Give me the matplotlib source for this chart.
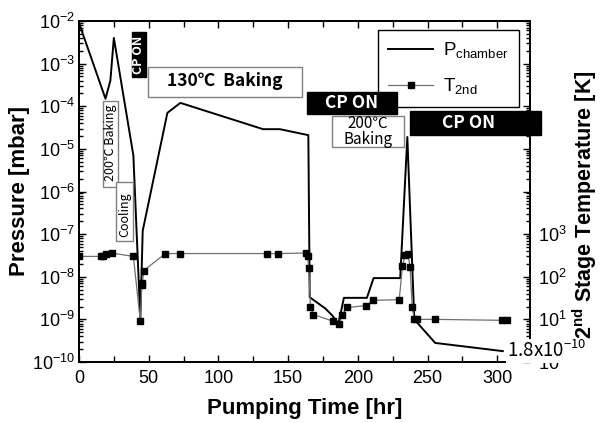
import math
import matplotlib
matplotlib.use('Agg')
import matplotlib.pyplot as plt
from matplotlib.lines import Line2D
from matplotlib.patches import Rectangle
from matplotlib.ticker import MultipleLocator, FixedLocator, FuncFormatter

plt.rcParams['font.family'] = 'Liberation Sans'
plt.rcParams['mathtext.fontset'] = 'custom'
plt.rcParams['mathtext.rm'] = 'Liberation Sans'
plt.rcParams['mathtext.bf'] = 'Liberation Sans:bold'
plt.rcParams['mathtext.default'] = 'regular'

# chamber pressure [mbar] vs pumping time [hr]
t_p = [0, 19, 22.5, 25, 39, 44, 45.7, 63.4, 72.7, 132, 144, 164.5, 165.5,
       176.7, 181.5, 186, 187.5, 190, 206.5, 211.3, 230.4, 235.5, 240.5,
       255.5, 304]
p_chamber = [9e-3, 1.5e-4, 4e-4, 4e-3, 7e-6, 1e-9, 1.2e-7, 7e-5, 1.2e-4,
             2.9e-5, 2.9e-5, 2.1e-5, 3.3e-9, 1.8e-9, 1.25e-9, 8e-10,
             1.3e-9, 3.2e-9, 3.2e-9, 9.3e-9, 9.3e-9, 1.9e-5, 1e-9,
             2.8e-10, 1.8e-10]

# 2nd stage temperature [K]
t_t = [0, 15.5, 17.5, 19.5, 23.5, 39, 44, 45, 45.5, 46.5, 62, 72.5, 135,
       143, 162.5, 164, 164.8, 166, 168, 182.5, 186.5, 188.6, 192.5, 206,
       211, 229.7, 232, 234, 236, 237.5, 239, 240.5, 242.5, 255.5, 303.5, 307]
t_2nd = [300, 300, 310, 340, 360, 300, 9, 65, 70, 140, 350, 350, 350,
         350, 360, 310, 160, 20, 13, 9, 7.6, 13, 19, 21,
         28, 29, 175, 330, 350, 165, 20, 10, 10, 10, 9.5, 9.5]

W, H = 600, 423
fig = plt.figure(figsize=(6, 4.23), dpi=100)
ax = fig.add_axes([79/W, 1 - 362/H, (530-79)/W, (362-21)/H])
ax2 = ax.twinx()

ax.plot(t_p, p_chamber, color='black', lw=1.4, zorder=3)
ax2.plot(t_t, t_2nd, color='#707070', lw=0.9, marker='s', ms=4,
         mfc='black', mec='black')

ax.set_yscale('log')
ax.set_ylim(1e-10, 1e-2)
ax.set_xlim(0, 323.5)
ax.xaxis.set_major_locator(MultipleLocator(50))
ax.xaxis.set_minor_locator(MultipleLocator(25))
ax.tick_params(which='both', direction='in', top=True, labelsize=13, width=1)
ax.tick_params(which='major', length=5)
ax.tick_params(which='minor', length=3)
ax.tick_params(axis='x', which='minor', length=4)
ax.tick_params(axis='x', pad=6)
ax.tick_params(axis='y', pad=3)

ax2.set_yscale('log')
ax2.set_ylim(1, 1e8)
ax2.yaxis.set_major_locator(FixedLocator([10.0**k for k in range(9)]))
ax2.yaxis.set_major_formatter(FuncFormatter(
    lambda v, pos: r'$10^{%d}$' % round(math.log10(v)) if v <= 1e3 else ''))
ax2.tick_params(which='both', direction='in', labelsize=13, width=1, pad=6)
ax2.tick_params(which='major', length=5)
ax2.tick_params(which='minor', length=3)

for a in (ax, ax2):
    for s in a.spines.values():
        s.set_linewidth(1.3)

ax.set_xlabel('Pumping Time [hr]', fontsize=16, fontweight='bold')
ax.xaxis.set_label_coords(0.501, -0.105)
ax.set_ylabel('Pressure [mbar]', fontsize=16, fontweight='bold')
ax.yaxis.set_label_coords(-0.109, 0.5)
ax2.set_ylabel(r'2$^{nd}$ Stage Temperature [K]', fontsize=15.5, fontweight='bold')
ax2.yaxis.set_label_coords(1.09, 0.46)

handles = [Line2D([], [], color='black', lw=1.4),
           Line2D([], [], color='#707070', lw=0.9, marker='s', ms=4,
                  mfc='black', mec='black')]
leg = ax2.legend(handles, [r'P$_{chamber}$', r'T$_{2nd}$'], loc='upper left',
                 bbox_to_anchor=((378-79)/451, (362-30)/341), fontsize=13.5,
                 frameon=True, fancybox=False, framealpha=1, edgecolor='black',
                 handlelength=2.4, handletextpad=0.5, labelspacing=0.85,
                 borderpad=0.55, borderaxespad=0)
leg.get_frame().set_linewidth(1.0)


def px(x, y):
    return x / W, 1 - y / H


def label_box(x0, y0, x1, y1, text, tx, ty, black=False, rot=0, size=9,
              weight='normal', ls=1.2):
    fc, ec, col = ('black', 'black', 'white') if black else ('white', '#808080', 'black')
    fig.add_artist(Rectangle(px(x0, y1), (x1 - x0) / W, (y1 - y0) / H,
                             transform=fig.transFigure, fc=fc, ec=ec, lw=1,
                             zorder=5))
    fig.text(*px(tx, ty), text, ha='center', va='center', rotation=rot,
             color=col, fontsize=size, fontweight=weight, linespacing=ls,
             family=['Noto Sans CJK KR', 'DejaVu Sans'], zorder=6)


label_box(132, 32, 146, 77, 'CP ON', 139, 54.5, black=True, rot=90, size=9,
          weight='bold')
label_box(148, 67, 302, 97, '130℃  Baking', 225, 81, size=12.5, weight='bold')
label_box(103, 101, 118, 187, '200℃ Baking', 110.5, 143, rot=90, size=9)
label_box(116, 182, 133, 241, 'Cooling', 124.5, 215, rot=90, size=9)
label_box(307, 92, 397, 114, 'CP ON', 352, 103, black=True, size=12.5,
          weight='bold')
label_box(332, 116, 404, 147, '200℃\nBaking', 368, 131.5, size=11, ls=0.95)
label_box(410, 111, 541, 135, 'CP ON', 469, 123, black=True, size=12.5,
          weight='bold')

fig.text(*px(507, 351), r'1.8x10$^{-10}$', ha='left', va='center',
         fontsize=13.5, family=['Noto Sans CJK KR', 'DejaVu Sans'], zorder=6,
         bbox=dict(fc='white', ec='none', pad=1.0))

fig.savefig('out.png', dpi=100)
